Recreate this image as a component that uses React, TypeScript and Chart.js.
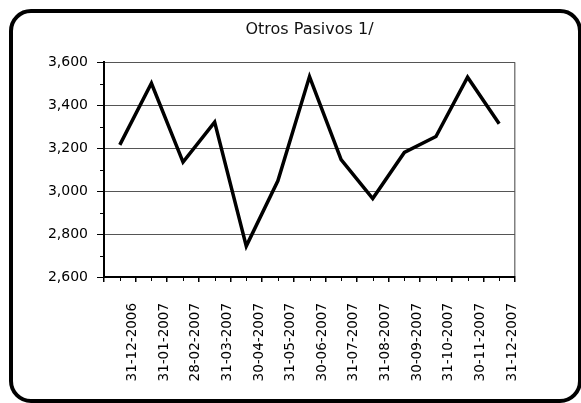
import React, { useEffect, useRef } from "react";
import { Chart, registerables } from "chart.js";

Chart.register(...registerables);

const categories: string[] = [
  "31-12-2006", "31-01-2007", "28-02-2007", "31-03-2007", "30-04-2007",
  "31-05-2007", "30-06-2007", "31-07-2007", "31-08-2007", "30-09-2007",
  "31-10-2007", "30-11-2007", "31-12-2007",
];

const otrosPasivos: number[] = [
  3215, 3502, 3135, 3321, 2744, 3048, 3533, 3146, 2965, 3180, 3254, 3530, 3313,
];

const yMin = 2600;
const yMax = 3600;
const yStep = 200;
const yMinorValues: number[] = [2700, 2900, 3100, 3300, 3500];

const FONT = "'DejaVu Sans', Verdana, sans-serif";

const minorTicksPlugin = {
  id: "minorTicks",
  afterDraw(chart: any) {
    const ctx = chart.ctx;
    const xs = chart.scales.x;
    const ys = chart.scales.y;
    ctx.save();
    ctx.strokeStyle = "#000";
    ctx.lineWidth = 1;
    ctx.beginPath();
    const axisX = chart.chartArea.left;
    yMinorValues.forEach((v) => {
      const py = Math.round(ys.getPixelForValue(v)) + 0.5;
      ctx.moveTo(axisX - 4, py);
      ctx.lineTo(axisX, py);
    });
    const axisY = chart.chartArea.bottom;
    categories.forEach((_, i) => {
      const px = Math.round(xs.getPixelForValue(i + 0.5)) + 0.5;
      ctx.moveTo(px, axisY);
      ctx.lineTo(px, axisY + 4);
    });
    ctx.stroke();
    ctx.restore();
  },
};

export default function App() {
  const canvasRef = useRef<HTMLCanvasElement | null>(null);

  useEffect(() => {
    const canvas = canvasRef.current;
    if (!canvas) return;
    const chart = new Chart(canvas, {
      type: "line",
      data: {
        datasets: [
          {
            label: "Otros Pasivos 1/",
            data: otrosPasivos.map((v, i) => ({ x: i + 0.5, y: v })),
            borderColor: "#000",
            borderWidth: 3.5,
            borderJoinStyle: "miter",
            pointRadius: 0,
            tension: 0,
            fill: false,
          },
        ],
      },
      options: {
        responsive: false,
        animation: false,
        devicePixelRatio: 1,
        layout: { padding: { left: 0, right: 66, top: 0, bottom: 0 } },
        plugins: {
          legend: { display: false },
          tooltip: { enabled: false },
          title: {
            display: true,
            fullSize: false,
            text: "Otros Pasivos 1/",
            color: "#111",
            font: { family: FONT, size: 16, weight: "normal" },
            padding: { top: 20, bottom: 23 },
          },
        },
        scales: {
          x: {
            type: "linear",
            min: 0,
            max: categories.length,
            afterBuildTicks: (scale: any) => {
              scale.ticks = Array.from({ length: categories.length + 1 }, (_, i) => ({ value: i }));
            },
            afterFit: (scale: any) => {
              scale.height = 126;
            },
            ticks: {
              autoSkip: false,
              minRotation: 90,
              maxRotation: 90,
              padding: 21,
              labelOffset: -3,
              color: "#000",
              font: { family: FONT, size: 13.5 },
              callback: (value: any) => {
                const v = Number(value);
                return v >= 1 && Number.isInteger(v) ? categories[v - 1] : "";
              },
            },
            grid: {
              display: true,
              drawOnChartArea: true,
              tickLength: 5,
              tickColor: "#000",
              color: (ctx: any) =>
                ctx.tick && ctx.tick.value === categories.length ? "#808080" : "rgba(0,0,0,0)",
              lineWidth: 1.5,
            },
            border: { display: true, color: "#000", width: 2 },
          },
          y: {
            type: "linear",
            min: yMin,
            max: yMax,
            afterFit: (scale: any) => {
              scale.width = 104;
            },
            ticks: {
              stepSize: yStep,
              padding: 9,
              color: "#000",
              font: { family: FONT, size: 14 },
              callback: (value: any) => Number(value).toLocaleString("en-US"),
            },
            grid: {
              display: true,
              drawOnChartArea: true,
              color: "#555",
              lineWidth: 1,
              tickLength: 7,
              tickColor: "#000",
            },
            border: { display: true, color: "#000", width: 2 },
          },
        },
      },
      plugins: [minorTicksPlugin],
    } as any);
    return () => chart.destroy();
  }, []);

  return (
    <div
      style={{
        position: "fixed",
        left: 0,
        top: 0,
        width: 581,
        height: 403,
        background: "#fff",
        overflow: "hidden",
      }}
    >
      <canvas
        ref={canvasRef}
        width={581}
        height={403}
        style={{ position: "absolute", left: 0, top: 0, width: 581, height: 403 }}
      />
      <div
        style={{
          position: "absolute",
          left: 9,
          top: 9,
          width: 573,
          height: 394,
          boxSizing: "border-box",
          border: "4px solid #000",
          borderRadius: 22,
          pointerEvents: "none",
        }}
      />
    </div>
  );
}
